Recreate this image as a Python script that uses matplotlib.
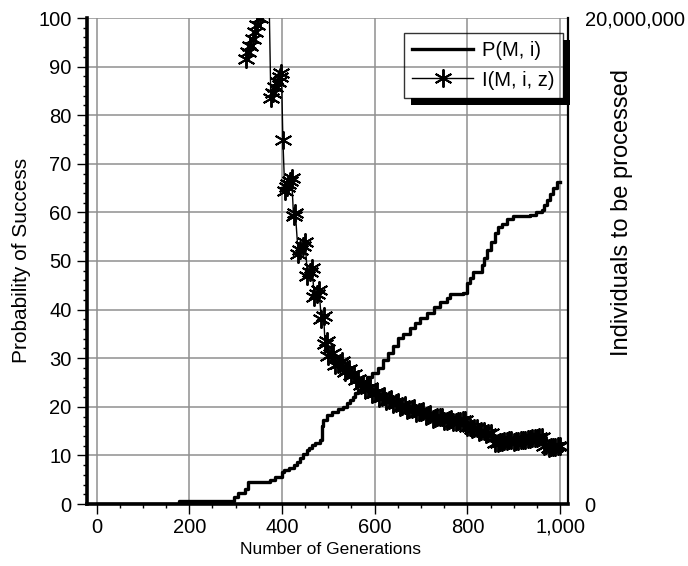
import matplotlib
matplotlib.use('Agg')
import matplotlib.pyplot as plt
from matplotlib.ticker import MultipleLocator, FixedLocator, FuncFormatter
from matplotlib.patches import Rectangle
from matplotlib.transforms import IdentityTransform
from matplotlib.lines import Line2D

plt.rcParams['font.family'] = ['Liberation Sans', 'DejaVu Sans']

# ---- data ----
# P(M, i): probability of success (%) - step curve breakpoints
p_gen = [0, 178, 297, 305, 320, 326, 374, 385, 400, 404, 415, 425, 432, 439, 446,
         453, 459, 464, 472, 482, 486, 489, 497, 507, 520, 532, 540, 547, 553, 558,
         564, 570, 577, 583, 595, 607, 618, 628, 640, 651, 662, 676, 686, 698, 712,
         727, 740, 756, 763, 791, 799, 806, 813, 831, 836, 842, 850, 860, 867, 874,
         885, 899, 935, 948, 960, 965, 971, 978, 985, 993, 1000]
p_val = [0, 0.7, 1.5, 2.2, 3.0, 4.6, 5.0, 5.6, 6.5, 7.0, 7.4, 8.0, 8.7, 9.4, 10.2,
         11.1, 11.6, 12.1, 12.6, 13.2, 16.0, 17.3, 18.3, 19.0, 19.5, 20.0, 20.7, 21.4, 22.1, 22.8,
         23.5, 24.2, 25.0, 26.2, 27.0, 28.0, 29.6, 31.0, 32.5, 34.1, 35.0, 36.2, 37.2, 38.3, 39.3,
         40.5, 41.5, 42.3, 43.2, 43.4, 45.4, 46.6, 47.8, 49.2, 50.7, 52.3, 54.0, 55.7, 57.0, 57.7,
         58.7, 59.3, 59.5, 60.0, 60.5, 61.5, 62.5, 63.8, 65.0, 66.3, 66.3]

# I(M, i, z): individuals to be processed (millions)
i_gen = [322, 327, 332, 337, 342, 347, 352, 357, 362, 367, 372,
         376, 381, 386, 391, 396, 399,
         402,
         406, 410, 414, 418, 421,
         425, 429,
         435, 440, 445, 450,
         455, 460, 465,
         470, 475, 480,
         485, 490,
         493, 497,
         500, 505, 510,
         515, 520, 525, 530, 535, 540, 545, 550, 555, 560, 565, 570, 575, 580, 585,
         590, 595, 600, 605, 610, 615, 620, 625, 630, 635, 640, 645, 650, 655, 660,
         665, 670, 675, 680, 685, 690, 695, 700, 705, 710, 715, 720, 725, 730, 735,
         740, 745, 750, 755, 760, 765, 770, 775, 780, 785, 790, 795, 800, 805, 810,
         815, 820, 825, 830, 835, 840, 845, 850, 855, 860, 865, 870, 875, 880, 885,
         890, 895, 900, 905, 910, 915, 920, 925, 930, 935, 940, 945, 950, 955, 960,
         965, 970, 975, 980, 985, 990, 995, 1000]
i_mil = [18.30, 18.60, 18.86, 19.14, 19.44, 19.72, 20.00, 20.28, 20.58, 20.86, 21.10,
         16.70, 16.92, 17.14, 17.36, 17.58, 17.72,
         15.00,
         12.90, 13.04, 13.16, 13.30, 13.40,
         11.84, 11.96,
         10.30, 10.46, 10.62, 10.78,
         9.40, 9.54, 9.70,
         8.50, 8.66, 8.80,
         7.60, 7.72,
         6.60, 6.70,
         6.10, 6.16, 6.22,
         5.70, 5.76, 5.82, 5.88, 5.44, 5.50, 5.56, 5.30, 5.36, 5.10, 5.16, 4.90, 4.94, 4.72, 4.76,
         4.80, 4.52, 4.56, 4.60, 4.38, 4.42, 4.46, 4.24, 4.28, 4.32, 4.10, 4.14, 4.18, 4.00, 4.04,
         4.06, 3.86, 3.90, 3.92, 3.96, 3.74, 3.78, 3.80, 3.84, 3.64, 3.66, 3.70, 3.50, 3.52, 3.56,
         3.58, 3.60, 3.40, 3.42, 3.44, 3.48, 3.36, 3.38, 3.40, 3.42, 3.44, 3.46, 3.16, 3.18, 3.10,
         3.12, 3.14, 2.98, 3.00, 3.02, 2.90, 2.92, 2.94, 2.70, 2.50, 2.52, 2.54, 2.56, 2.58, 2.60,
         2.62, 2.64, 2.56, 2.58, 2.60, 2.62, 2.62, 2.64, 2.66, 2.68, 2.70, 2.70, 2.72, 2.74, 2.76,
         2.40, 2.42, 2.32, 2.34, 2.34, 2.36, 2.38, 2.38]

x_ticks = [0, 200, 400, 600, 800, 1000]
right_ticks = [0, 20_000_000]

# ---- figure ----
W, H = 688, 566
fig = plt.figure(figsize=(W / 100, H / 100), dpi=100)
L, R, B, T = 87, 568, 504, 18
ax = fig.add_axes([L / W, 1 - B / H, (R - L) / W, (B - T) / H])
ax.set_xlim(-20.5, 1017)
ax.set_ylim(0, 100)

grid_c = '#8f8f8f'
ax.xaxis.set_major_locator(FixedLocator(x_ticks))
ax.xaxis.set_minor_locator(MultipleLocator(50))
ax.yaxis.set_major_locator(MultipleLocator(10))
ax.yaxis.set_minor_locator(MultipleLocator(2))
ax.xaxis.set_major_formatter(FuncFormatter(lambda v, p: f'{int(v):,}'))
ax.grid(True, which='major', color=grid_c, lw=1.1)
ax.set_axisbelow(True)

fs = 14.5
ax.tick_params(axis='both', which='major', direction='out', length=7, width=1,
               labelsize=fs, color='black')
ax.tick_params(axis='both', which='minor', direction='out', length=3, width=1, color='black')
ax.tick_params(axis='y', which='major', pad=4)
ax.tick_params(axis='x', which='major', pad=3)

for s in ['left', 'bottom']:
    ax.spines[s].set_linewidth(2.6)
    ax.spines[s].set_color('black')
ax.spines['top'].set_visible(False)
ax.spines['right'].set_visible(False)

ax.step(p_gen, p_val, where='post', color='black', lw=2.4, zorder=3)

ax2 = ax.twinx()
ax2.set_ylim(0, 20_000_000)
ax2.yaxis.set_major_locator(FixedLocator(right_ticks))
ax2.yaxis.set_major_formatter(FuncFormatter(lambda v, p: f'{int(v):,}'))
ax2.tick_params(axis='y', length=0, pad=12, labelsize=fs)
for s in ['left', 'bottom', 'top']:
    ax2.spines[s].set_visible(False)
ax2.spines['right'].set_linewidth(1.6)
ax2.spines['right'].set_color('black')

star = (6, 2, 0)
i_vals = [m * 1_000_000 for m in i_mil]
ax2.plot(i_gen, i_vals, color='black', lw=1, marker=star, markersize=13,
         markeredgewidth=1.4, zorder=4)

# labels
fig.text(22 / W, 1 - 260 / H, 'Probability of Success', rotation=90,
         ha='center', va='center', fontsize=15)
fig.text(622 / W, 1 - 212 / H, 'Individuals to be processed', rotation=90,
         ha='center', va='center', fontsize=17)
fig.text(331 / W, 1 - 549 / H, 'Number of Generations', ha='center', va='center',
         fontsize=12.5)

# legend
h1 = Line2D([], [], color='black', lw=2.4)
h2 = Line2D([], [], color='black', lw=1, marker=star, markersize=13, markeredgewidth=1.4)
leg = ax2.legend([h1, h2], ['P(M, i)', 'I(M, i, z)'], loc='upper left',
                 bbox_to_anchor=(404 / W, 1 - 33 / H), bbox_transform=fig.transFigure,
                 borderaxespad=0, fontsize=fs, frameon=True, fancybox=False,
                 numpoints=1, handlelength=3.0, handletextpad=0.45,
                 borderpad=0.42, labelspacing=0.5)
fr = leg.get_frame()
fr.set_facecolor('none')
fr.set_edgecolor('black')
fr.set_linewidth(1.0)

fig.canvas.draw()
bb = leg.get_window_extent()
d = 7
fig.add_artist(Rectangle((bb.x1, bb.y0 - d), d, bb.height, facecolor='black',
                         edgecolor='none', transform=IdentityTransform()))
fig.add_artist(Rectangle((bb.x0 + d, bb.y0 - d), bb.width, d, facecolor='black',
                         edgecolor='none', transform=IdentityTransform()))

fig.savefig('out.png', dpi=100, facecolor='white')
